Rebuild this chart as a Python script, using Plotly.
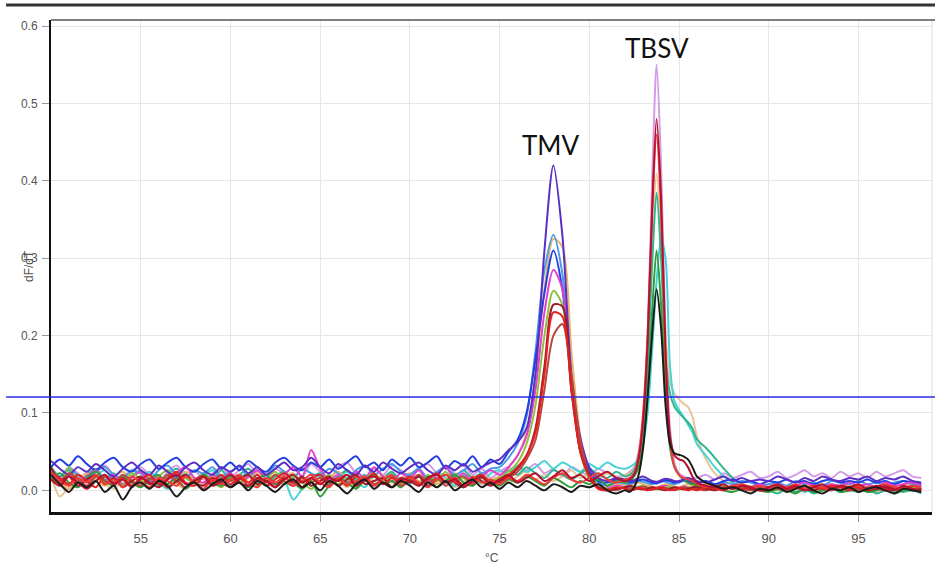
import numpy as np
import plotly.graph_objects as go

# Temperature grid of the melt-curve readout (°C): 0.5 steps, 0.25 steps near the TBSV peak
temps = np.concatenate([np.arange(50, 82, 0.5), np.arange(82, 86, 0.25), np.arange(86, 98.51, 0.5)])

# ---- dF/dT series (rows: 50-54.5 | 55-59.5 | 60-64.5 | 65-69.5 | 70-74.5 | 75-79.5 | 80-81.5 | 82-85.75 (0.25) | 86-89.5 | 90-94.5 | 95-98.5)
tmv_purple = [.038,.028,.020,.030,.024,.034,.026,.018,.028,.036,
              .026,.020,.032,.024,.018,.030,.036,.026,.020,.030,
              .024,.032,.022,.030,.020,.028,.036,.026,.030,.042,
              .030,.022,.034,.026,.020,.032,.024,.036,.028,.022,
              .030,.036,.026,.020,.032,.026,.034,.024,.030,.036,
              .040,.052,.062,.080,.150,.310,.420,.330,.150,.068,
              .030,.016,.012,.016,
              .014,.012,.013,.016,.018,.015,.012,.011,.013,.015,.014,.012,.012,.014,.016,.014,
              .012,.010,.014,.018,.012,.016,.012,.014,
              .012,.018,.014,.010,.016,.012,.018,.014,.012,.016,
              .014,.018,.012,.016,.014,.018,.012,.010]
tmv_blue = [.030,.040,.032,.044,.034,.026,.036,.042,.030,.024,
            .034,.040,.028,.036,.042,.030,.024,.034,.040,.028,
            .036,.026,.038,.030,.024,.036,.042,.032,.026,.036,
            .030,.040,.028,.036,.044,.030,.036,.026,.040,.032,
            .042,.030,.036,.044,.028,.038,.032,.044,.030,.040,
            .034,.050,.065,.100,.170,.255,.310,.260,.135,.060,
            .025,.012,.010,.014,
            .012,.010,.011,.013,.014,.012,.010,.009,.011,.013,.012,.010,.011,.013,.012,.010,
            .010,.012,.008,.012,.014,.010,.012,.008,
            .012,.010,.014,.010,.012,.008,.012,.014,.010,.012,
            .010,.014,.010,.012,.008,.012,.010,.008]
tmv_cornflower = [.025,.018,.028,.020,.014,.024,.030,.020,.016,.026,
                  .022,.014,.026,.032,.020,.016,.026,.022,.030,.018,
                  .024,.030,.018,.026,.020,.032,.024,.016,.028,.022,
                  .018,.028,.022,.016,.026,.032,.020,.028,.034,.024,
                  .020,.028,.016,.024,.030,.020,.026,.034,.022,.028,
                  .030,.042,.060,.095,.180,.285,.330,.280,.150,.060,
                  .022,.010,.006,.010,
                  .009,.008,.010,.012,.011,.009,.008,.010,.012,.011,.009,.008,.010,.012,.010,.008,
                  .008,.012,.006,.010,.008,.012,.010,.006,
                  .008,.010,.006,.012,.008,.010,.006,.012,.010,.008,
                  .012,.008,.010,.006,.010,.012,.008,.006]
tmv_tan = [.020,.010,.002,.014,.022,.012,.006,.016,.024,.014,
           .008,.018,.012,.004,.016,.024,.014,.008,.018,.012,
           .020,.010,.016,.024,.012,.006,.018,.022,.012,.016,
           .008,.016,.024,.014,.006,.018,.012,.020,.010,.016,
           .022,.012,.018,.008,.014,.022,.016,.010,.020,.014,
           .018,.030,.045,.075,.150,.260,.325,.315,.180,.070,
           .025,.008,.004,.008,
           .007,.006,.008,.010,.008,.006,.005,.004,.006,.008,.007,.005,.004,.006,.008,.006,
           .004,.008,.006,.002,.006,.008,.004,.006,
           .008,.004,.006,.002,.008,.004,.006,.008,.002,.006,
           .004,.008,.002,.006,.004,.008,.006,.004]
tmv_magenta = [.028,.014,.022,.010,.018,.026,.012,.020,.008,.016,
               .024,.012,.018,.008,.022,.030,.016,.010,.020,.014,
               .022,.010,.018,.026,.014,.008,.020,.030,.018,.052,
               .028,.014,.020,.010,.024,.016,.030,.018,.012,.022,
               .016,.026,.012,.020,.030,.014,.022,.010,.018,.026,
               .020,.030,.045,.070,.130,.230,.285,.260,.140,.055,
               .015,.004,.002,.006,
               .004,.002,.001,.003,.005,.004,.002,.003,.005,.006,.004,.002,.003,.005,.004,.002,
               .004,.002,.006,.004,.002,.006,.004,.008,
               .004,.008,.004,.006,.010,.006,.004,.008,.006,.010,
               .006,.008,.004,.010,.006,.008,.010,.006]
tmv_yellowgreen = [.018,.008,.030,.012,.004,.020,.010,.016,.006,.022,
                   .014,.004,.018,.026,.010,.016,.008,.020,.012,.004,
                   .016,.010,.022,.006,.014,.024,.008,.018,.010,.002,
                   .012,.020,.008,.016,.004,.014,.022,.010,.018,.008,
                   .014,.006,.020,.012,.024,.010,.016,.006,.018,.012,
                   .016,.024,.036,.060,.110,.200,.258,.240,.135,.050,
                   .016,.004,.000,.004,
                   .003,.002,.003,.005,.006,.004,.002,.001,.002,.004,.005,.003,.001,.002,.004,.003,
                   .002,.004,.000,.006,.002,.004,.000,.002,
                   .004,.000,.002,.006,.002,.004,.000,.002,.006,.002,
                   .000,.004,.002,.006,.002,.000,.004,.002]
tmv_darkred = [.030,.012,.018,.006,.014,.020,.008,.016,.004,.012,
               .018,.008,.014,.004,.012,.020,.010,.006,.016,.010,
               .004,.014,.020,.008,.012,.004,.016,.010,.018,.006,
               .012,.018,.006,.014,.020,.008,.012,.016,.004,.014,
               .010,.018,.006,.014,.020,.010,.004,.016,.012,.006,
               .012,.018,.028,.045,.080,.160,.240,.238,.130,.050,
               .020,.004,.000,.002,
               .004,.006,.004,.002,.001,.002,.004,.003,.001,.000,.002,.004,.003,.001,.002,.004,
               .004,.002,.000,.004,.002,.006,.002,.000,
               .000,.004,.002,.006,.002,.000,.004,.002,.006,.002,
               .004,.000,.002,.006,.002,.004,.000,.002]
tmv_red = [.022,.016,.008,.020,.012,.004,.018,.010,.016,.006,
           .014,.020,.008,.016,.024,.010,.006,.018,.012,.020,
           .008,.016,.010,.020,.006,.014,.022,.012,.004,.016,
           .020,.010,.016,.006,.018,.012,.022,.008,.016,.010,
           .018,.008,.014,.022,.010,.016,.006,.014,.020,.010,
           .014,.020,.030,.045,.075,.150,.230,.225,.130,.050,
           .018,.002,.000,.004,
           .002,.000,.001,.003,.002,.000,.001,.003,.004,.002,.000,.001,.003,.002,.000,.002,
           .000,.004,.002,.000,.006,.002,.004,.000,
           .002,.006,.002,.004,.000,.004,.002,.006,.004,.000,
           .004,.002,.006,.002,.000,.004,.002,.000]
tmv_brown = [.016,.010,.022,.014,.006,.018,.012,.008,.020,.012,
             .006,.016,.010,.020,.012,.004,.014,.018,.008,.016,
             .012,.018,.006,.014,.010,.020,.012,.006,.016,.010,
             .016,.006,.014,.020,.010,.016,.008,.014,.018,.006,
             .012,.020,.010,.016,.006,.014,.018,.008,.016,.012,
             .010,.016,.024,.040,.065,.130,.200,.215,.150,.065,
             .020,.004,.002,.000,
             .004,.003,.002,.004,.005,.003,.001,.002,.004,.003,.001,.000,.002,.004,.003,.001,
             .002,.000,.004,.002,.006,.002,.000,.004,
             .004,.002,.000,.004,.002,.006,.002,.000,.004,.002,
             .000,.004,.002,.000,.004,.002,.006,.002]

tbsv_lavender = [.026,.018,.030,.022,.012,.024,.032,.020,.014,.026,
                 .030,.020,.012,.024,.032,.018,.026,.014,.022,.030,
                 .018,.026,.034,.020,.014,.028,.022,.030,.018,.034,
                 .024,.014,.030,.036,.022,.016,.028,.020,.032,.026,
                 .018,.028,.034,.022,.014,.026,.032,.020,.028,.016,
                 .024,.030,.020,.026,.034,.022,.028,.018,.030,.024,
                 .020,.028,.022,.018,
                 .020,.024,.030,.050,.095,.200,.400,.550,.420,.200,.080,.035,.022,.018,.016,.015,
                 .016,.020,.014,.022,.016,.020,.024,.016,
                 .018,.024,.016,.020,.026,.018,.022,.016,.024,.018,
                 .022,.016,.024,.018,.022,.026,.018,.016]
tbsv_crimson = [.014,.006,.018,.010,.002,.012,.020,.008,.014,.004,
                .016,.010,.004,.014,.020,.008,.012,.018,.006,.012,
                .020,.010,.006,.016,.012,.004,.014,.020,.010,.016,
                .008,.016,.012,.020,.006,.014,.018,.010,.004,.016,
                .012,.006,.016,.020,.010,.014,.004,.012,.018,.008,
                .014,.020,.010,.016,.022,.012,.018,.026,.016,.020,
                .012,.018,.024,.016,
                .012,.014,.020,.040,.090,.190,.360,.480,.380,.180,.070,.045,.040,.038,.030,.018,
                .010,.006,.004,.008,.002,.006,.004,.000,
                .004,.008,.002,.006,.000,.004,.008,.002,.006,.004,
                .008,.002,.006,.004,.000,.006,.002,.000]
tbsv_red = [.024,.012,.006,.016,.010,.020,.008,.014,.004,.018,
            .010,.004,.016,.012,.006,.018,.010,.002,.014,.008,
            .014,.020,.010,.004,.016,.010,.018,.006,.012,.020,
            .010,.004,.016,.008,.012,.018,.006,.014,.020,.010,
            .016,.010,.004,.014,.020,.012,.006,.018,.010,.014,
            .008,.016,.012,.020,.014,.008,.016,.022,.014,.010,
            .016,.022,.014,.010,
            .014,.016,.022,.045,.100,.200,.360,.460,.360,.170,.065,.030,.020,.016,.014,.012,
            .008,.004,.006,.002,.006,.008,.004,.006,
            .002,.006,.004,.008,.002,.006,.004,.000,.006,.004,
            .006,.002,.004,.008,.004,.002,.006,.004]
tbsv_tan = [.020,-.008,.004,.012,.006,.016,.008,.002,.012,.006,
            .014,.004,.010,.018,.008,.002,.012,.016,.006,.010,
            .004,.012,.018,.008,.014,.006,.010,.016,.004,.012,
            .018,.008,.012,.004,.016,.010,.006,.014,.020,.008,
            .012,.018,.006,.010,.016,.004,.012,.018,.008,.014,
            .016,.010,.018,.024,.014,.020,.012,.018,.026,.016,
            .020,.014,.022,.016,
            .020,.022,.028,.045,.080,.170,.320,.410,.330,.200,.140,.125,.118,.112,.108,.095,
            .070,.040,.022,.012,.008,.004,.006,.002,
            .004,.000,.006,.002,-.002,.004,.000,.006,.002,.000,
            .004,.000,-.002,.004,.002,.000,.004,.002]
tbsv_teal = [.030,.018,.026,.010,.020,.028,.014,.022,.008,.018,
             .026,.014,.006,.020,.028,.016,.010,.022,.014,.026,
             .012,.020,.028,.014,.006,.018,.024,.012,.004,.016,
             .022,.010,.018,.026,.014,.020,.008,.016,.024,.012,
             .020,.028,.014,.022,.010,.018,.026,.016,.022,.012,
             .018,.026,.020,.030,.022,.016,.026,.020,.014,.022,
             .028,.020,.016,.024,
             .018,.020,.026,.045,.080,.160,.290,.385,.300,.170,.125,.108,.100,.094,.088,.080,
             .066,.055,.042,.028,.016,.008,.004,.000,
             .000,-.004,.002,-.002,.002,-.004,.000,.002,-.002,.000,
             -.002,.002,-.004,.000,.002,-.002,.000,-.004]
tbsv_cyan = [.022,.010,.030,.016,.004,.018,.026,.012,.020,.006,
             .016,.024,.010,.002,.014,.022,.008,.018,.026,.012,
             .006,.016,.022,.010,.018,.004,.012,-.012,.002,.014,
             .020,.008,.016,.024,.012,.004,.018,.010,.022,.014,
             .008,.018,.012,.024,.016,.006,.020,.014,.010,.022,
             .026,.020,.032,.024,.030,.038,.028,.036,.030,.024,
             .034,.028,.036,.030,
             .028,.030,.034,.040,.060,.100,.180,.270,.325,.300,.160,.115,.104,.095,.085,.075,
             .060,.045,.030,.018,.010,.006,.002,.004,
             .002,.006,.000,.004,-.002,.002,.006,.000,.004,.002,
             .006,.000,.004,.002,-.002,.004,.000,.002]
tbsv_green = [.014,.022,.010,.004,.016,.024,.012,.006,.018,.010,
              .004,.014,.020,.008,.016,.002,.012,.020,.010,.006,
              .018,.010,.004,.014,.020,.008,.016,.010,.002,.012,
              -.008,.006,.016,.010,.002,.014,.020,.008,.012,.004,
              .014,.008,.018,.004,.012,.020,.010,.006,.016,.012,
              .006,.014,.010,.018,.012,.006,.016,.010,.004,.012,
              .008,.014,.006,.012,
              .010,.012,.018,.030,.060,.130,.230,.310,.240,.130,.055,.030,.020,.014,.010,.008,
              .006,.002,.004,.000,-.002,.002,.004,.000,
              -.002,.002,.000,-.004,.002,-.002,.000,.004,-.002,.000,
              .002,-.002,.000,.004,-.004,.000,.002,-.002]
tbsv_black = [.020,.008,-.002,.010,.004,.012,-.002,.006,-.012,.004,
              .010,.002,.012,.006,-.008,.004,.010,.000,.008,.014,
              .004,.010,.000,.012,.006,-.002,.008,.014,.004,.010,
              .000,.012,.006,-.004,.008,.014,.002,.010,.004,.012,
              .006,-.002,.010,.004,.012,.000,.008,.014,.004,.010,
              .002,.010,.004,.012,.006,.000,.008,.004,-.002,.006,
              .004,.008,.000,-.004,
              .000,-.002,.004,.020,.055,.120,.200,.260,.210,.110,.060,.048,.046,.044,.040,.030,
              .018,.010,.006,.002,.004,.000,-.004,.002,
              .000,.004,-.002,.002,.006,.000,-.004,.002,.000,.004,
              -.002,.002,.004,.000,-.004,.002,.000,-.002]

# drawing order (back to front)
series = [tbsv_lavender, tbsv_tan, tbsv_cyan, tbsv_teal, tmv_tan, tmv_cornflower, tmv_blue,
          tmv_magenta, tmv_yellowgreen, tbsv_green, tmv_purple, tmv_brown, tmv_darkred,
          tmv_red, tbsv_red, tbsv_crimson, tbsv_black]
colors = ["#d49be6", "#e9c497", "#45d3d6", "#2fb58f", "#edb26b", "#4b9be6", "#1f3fe0",
          "#e23fcf", "#8fc23f", "#2e9e3a", "#5b2fc4", "#b9473f", "#9c1b2c",
          "#e41f1f", "#f23a3a", "#b5122e", "#1b1b1b"]

threshold = 0.1207
x_ticks = [55, 60, 65, 70, 75, 80, 85, 90, 95]
y_ticks = [0.0, 0.1, 0.2, 0.3, 0.4, 0.5, 0.6]
y_ticktext = ["0.0", "0.1", "0.2", "0.3", "0.4", "0.5", "0.6"]
peak_labels = ["TMV", "TBSV"]
peak_label_x = [77.85, 83.76]
peak_label_y = [0.446, 0.572]

X_RANGE = [50, 99.1]
Y_RANGE = [-0.028, 0.608]

for s in series:
    assert len(s) == len(temps), len(s)

fig = go.Figure()
for s, c in zip(series, colors):
    fig.add_trace(go.Scatter(x=temps, y=s, mode="lines",
                             line=dict(color=c, width=2, shape="spline", smoothing=0.8),
                             hoverinfo="skip"))

for t, lx, ly in zip(peak_labels, peak_label_x, peak_label_y):
    fig.add_annotation(x=lx, y=ly, xref="x", yref="y", text=t, showarrow=False,
                       xanchor="center", yanchor="middle",
                       font=dict(family="Lato", size=26, color="#111111"))

# axis titles
fig.add_annotation(x=0.5, y=-0.093, xref="paper", yref="paper", text="°C", showarrow=False,
                   xanchor="center", yanchor="middle",
                   font=dict(family="Liberation Sans", size=12, color="#555555"))
fig.add_annotation(x=-0.025, y=0.5, xref="paper", yref="paper", text="dF/dT", showarrow=False,
                   xanchor="center", yanchor="middle", textangle=-90,
                   font=dict(family="Liberation Sans", size=12, color="#555555"))

thr_paper = (threshold - Y_RANGE[0]) / (Y_RANGE[1] - Y_RANGE[0])
fig.add_shape(type="line", xref="paper", yref="paper", x0=-0.051, x1=1.01, y0=thr_paper, y1=thr_paper,
              line=dict(color="#2a2ae0", width=1.6), layer="above")
# top frame line and top dark border
fig.add_shape(type="line", xref="paper", yref="paper", x0=0, x1=1.01, y0=1.0, y1=1.0,
              line=dict(color="#555555", width=1.5), layer="above")
fig.add_shape(type="line", xref="paper", yref="paper", x0=-0.051, x1=1.01, y0=1.0305, y1=1.0305,
              line=dict(color="#333333", width=3), layer="above")
fig.add_shape(type="line", xref="paper", yref="paper", x0=1.0, x1=1.0, y0=0, y1=1,
              line=dict(color="#dddddd", width=1), layer="below")

fig.update_layout(
    width=935, height=566,
    margin=dict(l=51, r=3, t=20, b=54),
    paper_bgcolor="white", plot_bgcolor="white",
    showlegend=False,
    xaxis=dict(range=X_RANGE, tickvals=x_ticks, showgrid=True, gridcolor="#e6e6e6", gridwidth=1,
               zeroline=False, showline=True, linecolor="#111111", linewidth=3,
               ticks="outside", ticklen=7, tickcolor="#999999", tickwidth=1,
               ticklabelstandoff=5,
               tickfont=dict(family="Liberation Sans", size=13, color="#555555")),
    yaxis=dict(range=Y_RANGE, tickvals=y_ticks, ticktext=y_ticktext, showgrid=True,
               gridcolor="#e6e6e6", gridwidth=1, zeroline=False, showline=True,
               linecolor="#111111", linewidth=2, ticks="outside", ticklen=7,
               tickcolor="#999999", tickwidth=1, ticklabelstandoff=2,
               tickfont=dict(family="Liberation Sans", size=12, color="#555555")),
)

fig.write_html("out.html")
